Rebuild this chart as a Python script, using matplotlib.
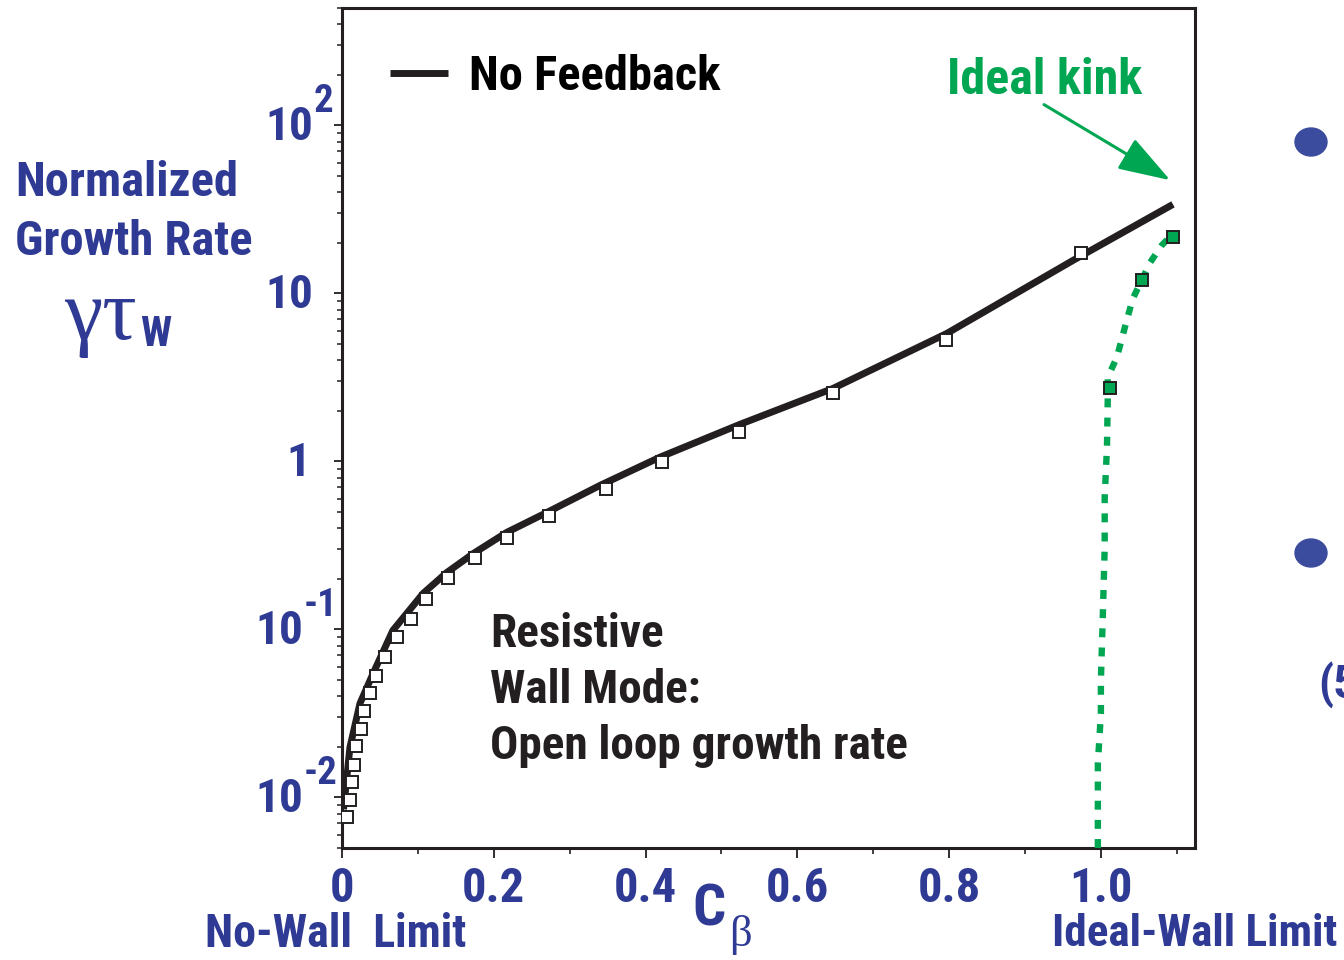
import matplotlib
matplotlib.use('Agg')
from matplotlib import pyplot as plt
from matplotlib import font_manager
from matplotlib.patches import Ellipse
from matplotlib.ticker import MultipleLocator, LogLocator, NullFormatter

# colours of the slide
BLUE = '#2E3A94'
GREEN = '#00A651'
INK = '#231F20'

# "No Feedback" curve (C_beta, normalized growth rate)
cb_line = [0.002, 0.0105, 0.0237, 0.041, 0.067, 0.107, 0.138, 0.173, 0.217,
           0.270, 0.340, 0.419, 0.524, 0.647, 0.797, 0.963, 1.095]
gr_line = [0.0085, 0.0199, 0.0363, 0.0547, 0.0986, 0.164, 0.218, 0.283, 0.378,
           0.497, 0.72, 1.06, 1.66, 2.72, 5.78, 15.7, 33.9]

# open squares (resistive wall mode, open loop)
cb_sq = [0.0066, 0.0105, 0.0132, 0.0158, 0.0184, 0.025, 0.029, 0.0369, 0.0448,
         0.0567, 0.0725, 0.0909, 0.1107, 0.140, 0.175, 0.217, 0.273, 0.348,
         0.4216, 0.523, 0.647, 0.796, 0.974]
gr_sq = [0.0076, 0.0096, 0.0123, 0.0157, 0.0201, 0.0254, 0.0325, 0.0416, 0.0525,
         0.0681, 0.0896, 0.115, 0.151, 0.201, 0.265, 0.348, 0.471, 0.681,
         0.987, 1.49, 2.54, 5.25, 17.5]

# ideal kink branch (dotted green) and its filled squares
cb_kink = [0.996, 0.996, 1.000, 1.000, 1.0026, 1.005, 1.005, 1.008, 1.009,
           1.009, 1.021, 1.034, 1.042, 1.065, 1.080, 1.095]
gr_kink = [0.005, 0.0159, 0.0316, 0.0497, 0.124, 0.308, 0.61, 1.21, 2.31,
           3.16, 4.16, 6.9, 9.3, 15.3, 19.3, 22.7]
cb_kink_sq = [1.012, 1.054, 1.095]
gr_kink_sq = [2.72, 12.1, 21.8]

x_ticks = [0, 0.2, 0.4, 0.6, 0.8, 1.0]
x_tick_labels = ['0', '0.2', '0.4', '0.6', '0.8', '1.0']
y_ticks = [0.01, 0.1, 1, 10, 100]
y_tick_base = ['10', '10', '1', '10', '10']
y_tick_exp = ['-2', '-1', '', '', '2']


def pick_narrow():
    """narrowest bold sans that is installed"""
    ttf = font_manager.fontManager.ttflist
    names = {f.name for f in ttf}
    for name in ('Liberation Sans Narrow', 'Roboto Condensed', 'Open Sans Condensed',
                 'Noto Sans Condensed', 'DejaVu Sans Condensed', 'Arial Narrow'):
        if name in names:
            return dict(family=name)
    for name in ('Noto Sans', 'Open Sans', 'Roboto', 'DejaVu Sans'):
        for f in ttf:
            if f.name == name and f.stretch in ('condensed', 'semi-condensed',
                                                'extra-condensed', 500 - 125):
                return dict(family=name, stretch=f.stretch)
    if 'Liberation Sans' in names:
        return dict(family='Liberation Sans')
    return dict(family='DejaVu Sans')


fonts = {f.name for f in font_manager.fontManager.ttflist}
SERIF = 'Liberation Serif' if 'Liberation Serif' in fonts else 'DejaVu Serif'
bold = dict(weight='bold', **pick_narrow())

fig = plt.figure(figsize=(13.44, 9.6), dpi=100)

# scale all sans text so a reference line keeps the width of the slide
renderer = fig.canvas.get_renderer()
probe = fig.text(0, 0, 'Open loop growth rate', fontsize=34, **bold)
k = min(1.0, 423 / probe.get_window_extent(renderer).width)
probe.remove()


def fs(size):
    return size * k


ax = fig.add_axes([342 / 1344, 1 - 848 / 960, (1195 - 342) / 1344, (848 - 8) / 960])
ax.set_yscale('log')
ax.set_xlim(0, 1.124)
ax.set_ylim(0.005, 500)

ax.plot(cb_line, gr_line, color=INK, lw=5, solid_capstyle='butt',
        label='No Feedback', zorder=3)
ax.plot(cb_sq, gr_sq, ls='none', marker='s', ms=8.5, mfc='white', mec=INK,
        mew=1.4, zorder=4)
ax.plot(cb_kink, gr_kink, color=GREEN, lw=4.6, ls=(0, (1.4, 1.6)), zorder=3)
ax.plot(cb_kink_sq, gr_kink_sq, ls='none', marker='s', ms=8.5, mfc=GREEN,
        mec=INK, mew=1.4, zorder=5)

for s in ax.spines.values():
    s.set_linewidth(2.2)
    s.set_color(INK)

ax.tick_params(which='both', direction='out', top=False, right=False, color=INK)
ax.tick_params(axis='x', which='major', length=7, width=1.3, pad=6)
ax.tick_params(axis='x', which='minor', length=4, width=1.2)
ax.tick_params(axis='y', which='major', length=6, width=1.3)
ax.tick_params(axis='y', which='minor', length=3.5, width=1.1)

ax.set_xticks(x_ticks, x_tick_labels)
ax.xaxis.set_minor_locator(MultipleLocator(0.1))
for lab in ax.get_xticklabels():
    lab.set_color(BLUE)
    lab.set_fontproperties(font_manager.FontProperties(size=fs(35), **bold))

ax.set_yticks(y_ticks, [''] * len(y_ticks))
ax.yaxis.set_minor_locator(LogLocator(base=10, subs=range(2, 10), numticks=20))
ax.yaxis.set_minor_formatter(NullFormatter())

# y tick labels drawn as base + raised exponent
for val, base, exp in zip(y_ticks, y_tick_base, y_tick_exp):
    dx = -39 if exp.startswith('-') else -29
    if base == '1':
        dx = -32
    ax.annotate(base, xy=(0, val), xycoords=('axes fraction', 'data'),
                xytext=(dx, -2), textcoords='offset pixels', ha='right',
                va='center', fontsize=fs(34), color=BLUE, **bold)
    if exp:
        ax.annotate(exp, xy=(0, val), xycoords=('axes fraction', 'data'),
                    xytext=(dx + 1, 24), textcoords='offset pixels', ha='left',
                    va='center', fontsize=fs(28), color=BLUE, **bold)

ax.legend(loc='center left', bbox_to_anchor=(0.056, 0.918), frameon=False,
          handlelength=1.2 * 34 / fs(34), handletextpad=0.42 * 34 / fs(34),
          borderpad=0, borderaxespad=0,
          prop=font_manager.FontProperties(size=fs(35), **bold))

ax.text(0.824, 0.914, 'Ideal kink', transform=ax.transAxes, ha='center',
        va='center', color=GREEN, fontsize=fs(36), **bold)
ax.annotate('', xy=(0.971, 0.795), xytext=(0.823, 0.885), xycoords='axes fraction',
            arrowprops=dict(arrowstyle='-|>,head_length=0.9,head_width=0.3',
                            mutation_scale=36, color=GREEN, lw=2.2,
                            shrinkA=0, shrinkB=0))

ax.text(0.1735, 0.188, 'Resistive\nWall Mode:\nOpen loop growth rate',
        transform=ax.transAxes, ha='left', va='center', ma='left',
        fontsize=fs(34), linespacing=1.34 * 34 / fs(34) if k < 0.9 else 1.34,
        color=INK, **bold)


# labels around the axes (figure pixels -> fraction)
def fx(px):
    return px / 1344


def fy(py):
    return 1 - py / 960


fig.text(fx(15), fy(183), 'Normalized', ha='left', va='center', color=BLUE,
         fontsize=fs(35), **bold)
fig.text(fx(15), fy(242), 'Growth Rate', ha='left', va='center', color=BLUE,
         fontsize=fs(35), **bold)
fig.text(fx(137), fy(318), 'γτ', ha='right', va='center', color=BLUE,
         fontsize=62, family=SERIF)
fig.text(fx(140), fy(335), 'W', ha='left', va='center', color=BLUE,
         fontsize=fs(30), **bold)

fig.text(fx(205), fy(934), 'No-Wall  Limit', ha='left', va='center', color=BLUE,
         fontsize=fs(33), **bold)
fig.text(fx(692), fy(910), 'C', ha='left', va='center', color=BLUE,
         fontsize=fs(42), **bold)
fig.text(fx(729), fy(935), 'β', ha='left', va='center', color=BLUE,
         fontsize=32, family=SERIF)
fig.text(fx(1052), fy(934), 'Ideal-Wall Limit', ha='left', va='center',
         color=BLUE, fontsize=fs(32.5), **bold)

# pieces of the slide cut off at the right edge
for py in (142, 553):
    fig.add_artist(Ellipse((13.11, (960 - py) / 100), 0.32, 0.28,
                           transform=fig.dpi_scale_trans, color='#3B4C9E'))
fig.text(fx(1318), fy(685), '(5', ha='left', va='center', color=BLUE,
         fontsize=fs(34), **bold)

fig.savefig('out.png', dpi=100)
